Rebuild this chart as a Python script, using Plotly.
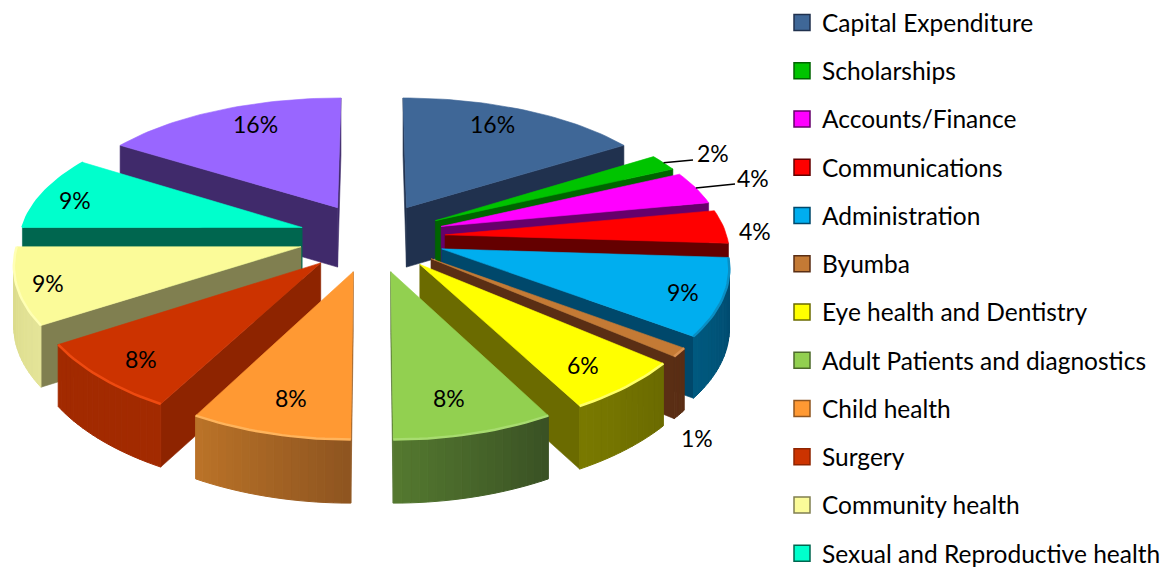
import math
import plotly.graph_objects as go

# ---------- data ----------
categories = ["Capital Expenditure", "Scholarships", "Accounts/Finance", "Communications",
              "Administration", "Byumba", "Eye health and Dentistry",
              "Adult Patients and diagnostics", "Child health", "Surgery",
              "Community health", "Sexual and Reproductive health", "Other"]
values = [16, 2, 4, 4, 9, 1, 6, 8, 8, 8, 9, 9, 16]

top_colors = ["#3F6797", "#00C400", "#FF00FF", "#FF0000", "#00AEEF", "#C47A35", "#FFFF00",
              "#92D050", "#FF9933", "#CC3300", "#FBFB99", "#00FFCC", "#9966FF"]
face_colors = ["#20314E", "#006400", "#66006B", "#640000", "#00486B", "#5A2E14", "#6B6B00",
               "#4C6A2A", "#8F5520", "#8E2400", "#807F50", "#00664F", "#402A6B"]
wall_start = ["#20314E", "#006400", "#66006B", "#640000", "#00486B", "#5A2E14", "#6B6B00",
              "#3A5224", "#8F5520", "#A22A00", "#E4E498", "#00664F", "#402A6B"]
wall_end = ["#20314E", "#006400", "#66006B", "#640000", "#005A80", "#5A2E14", "#7A7A00",
            "#557A30", "#BC7428", "#A22A00", "#D8D888", "#00664F", "#402A6B"]
rim_colors = [None, None, None, None, "#0A8FC4", "#D89050", "#FFFF66",
              "#A8DC70", "#FFB45C", "#EE4A10", "#FFFFB4", "#00FFCC", None]
label_xy = [(492, 124), (713, 153), (753, 178), (755, 231), (683, 292), (697, 438),
            (583, 365), (449, 398), (291, 398), (141, 359), (48, 283), (75, 200), (255, 124)]
legend_count = 12

# ---------- projection ----------
CX, CY = 372, 237
R, RK, PX, PY, H = 282, 133, 0.112, 0.142, 60
EXPLODE = 0.26


def project(x, y, z):
    return (CX + R * x / (1 + PX * y),
            CY - RK * y / (1 + PY * y) + H * (1 - z) / (1 + PY * y) ** 0.3)


def mix(a, b, t):
    ca = [int(a[i:i + 2], 16) for i in (1, 3, 5)]
    cb = [int(b[i:i + 2], 16) for i in (1, 3, 5)]
    return "#%02X%02X%02X" % tuple(round(p + (q - p) * t) for p, q in zip(ca, cb))


def poly(pts, color, lw=0.6):
    xs = [p[0] for p in pts] + [pts[0][0]]
    ys = [p[1] for p in pts] + [pts[0][1]]
    return go.Scatter(x=xs, y=ys, mode="lines", fill="toself", fillcolor=color,
                      line=dict(color=color, width=lw), hoverinfo="skip", showlegend=False)


def area(pts):
    return sum(pts[i][0] * pts[(i + 1) % len(pts)][1] - pts[(i + 1) % len(pts)][0] * pts[i][1]
               for i in range(len(pts)))


total = sum(values)
slices = []
cum = 0
for i, v in enumerate(values):
    a0 = 2 * math.pi * cum / total
    a1 = 2 * math.pi * (cum + v) / total
    mid = (a0 + a1) / 2
    slices.append((i, a0, a1, mid))
    cum += v

fig = go.Figure()
order = sorted(slices, key=lambda s: -math.cos(s[3]))
leaders = {}
for i, a0, a1, mid in order:
    ox, oy = EXPLODE * math.sin(mid), EXPLODE * math.cos(mid)
    steps = max(4, int((a1 - a0) / math.radians(1.5)))
    ring = [(ox + math.sin(a0 + (a1 - a0) * k / steps), oy + math.cos(a0 + (a1 - a0) * k / steps))
            for k in range(steps + 1)]
    apex = (ox, oy)

    # radial cut faces
    for A, B in ((apex, ring[0]), (ring[-1], apex)):
        f = [project(*A, 1), project(*B, 1), project(*B, 0), project(*A, 0)]
        if area(f) < 0:
            fig.add_trace(poly(f, face_colors[i]))
    # curved outer wall in gradient bands
    for k in range(steps):
        f = [project(*ring[k], 1), project(*ring[k + 1], 1),
             project(*ring[k + 1], 0), project(*ring[k], 0)]
        if area(f) < 0:
            fig.add_trace(poly(f, mix(wall_start[i], wall_end[i], k / steps), lw=1))
    # top face
    fig.add_trace(poly([project(*apex, 1)] + [project(*p, 1) for p in ring], top_colors[i]))
    # bevel highlight along the rim
    if rim_colors[i]:
        rim = [project(*p, 1) for p in ring]
        fig.add_trace(go.Scatter(x=[p[0] for p in rim], y=[p[1] for p in rim], mode="lines",
                                 line=dict(color=rim_colors[i], width=2.5),
                                 hoverinfo="skip", showlegend=False))
    leaders[i] = project(ox + math.sin(mid), oy + math.cos(mid), 1)

# legend entries
for i in range(legend_count):
    fig.add_trace(go.Scatter(x=[None], y=[None], mode="markers", name=categories[i],
                             legendgroup=categories[i],
                             marker=dict(symbol="square", size=16, color=top_colors[i],
                                         line=dict(color=face_colors[i], width=1.5))))

FONT = "Lato"
annotations = [dict(x=x, y=y, text=f"{values[i]}%", showarrow=False, xref="x", yref="y",
                    font=dict(family=FONT, size=23, color="#000000"))
               for i, (x, y) in enumerate(label_xy)]
shapes = [
    dict(type="line", xref="x", yref="y", x0=leaders[1][0], y0=leaders[1][1], x1=693, y1=160,
         line=dict(color="#000000", width=1.5)),
    dict(type="line", xref="x", yref="y", x0=leaders[2][0], y0=leaders[2][1], x1=735, y1=184,
         line=dict(color="#000000", width=1.5)),
]

fig.update_layout(
    width=1176, height=568, margin=dict(l=0, r=0, t=0, b=0, autoexpand=False),
    paper_bgcolor="#FFFFFF", plot_bgcolor="#FFFFFF",
    xaxis=dict(range=[0, 1176], visible=False, fixedrange=True),
    yaxis=dict(range=[568, 0], visible=False, fixedrange=True),
    annotations=annotations, shapes=shapes,
    legend=dict(x=782 / 1176, y=1.0, xanchor="left", yanchor="top",
                font=dict(family=FONT, size=24.5, color="#000000"),
                tracegroupgap=13.4, maxheight=600, itemclick=False, itemdoubleclick=False,
                bgcolor="rgba(0,0,0,0)"),
)
fig.write_html("out.html", config=dict(displayModeBar=False),
               post_script="document.body.style.margin='0';document.documentElement.style.overflow='hidden';")
